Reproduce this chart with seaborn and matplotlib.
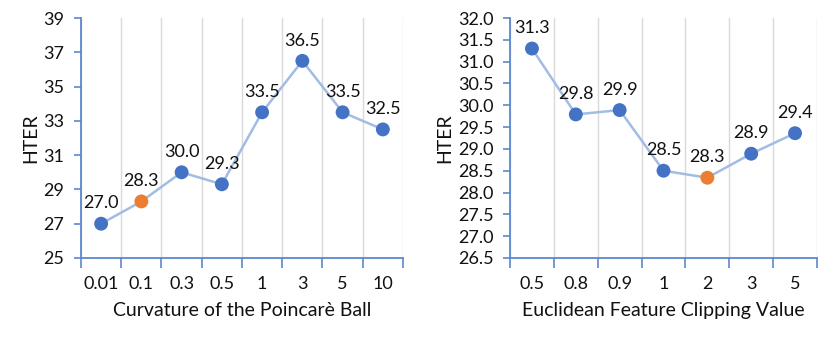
import matplotlib
matplotlib.use('Agg')
import matplotlib.pyplot as plt
import seaborn as sns
import numpy as np
import pandas as pd
from matplotlib.ticker import FixedLocator

# data
curv_labels = ['0.01', '0.1', '0.3', '0.5', '1', '3', '5', '10']
curv_hter = [27.0, 28.3, 30.0, 29.3, 33.5, 36.5, 33.5, 32.5]
curv_best = 1

clip_labels = ['0.5', '0.8', '0.9', '1', '2', '3', '5']
clip_hter = [31.3, 29.79, 29.89, 28.5, 28.34, 28.89, 29.36]
clip_best = 4

sns.set_theme(style="white")
plt.rcParams['font.family'] = ['Lato', 'DejaVu Sans']

BLUE = '#4472C4'
ORANGE = '#ED7D31'
LINE = '#A3BCE3'
SPINE = '#5B87D0'
GRID = '#D9D9D9'


def draw_panel(ax, labels, values, best, xlabel, yticks):
    n = len(labels)
    df = pd.DataFrame({'pos': np.arange(n), 'hter': values,
                       'kind': ['best' if i == best else 'other' for i in range(n)]})
    sns.lineplot(data=df, x='pos', y='hter', ax=ax, color=LINE, linewidth=1.8, zorder=2)
    sns.scatterplot(data=df, x='pos', y='hter', hue='kind', palette={'best': ORANGE, 'other': BLUE},
                    s=100, edgecolor='none', legend=False, ax=ax, zorder=3)
    for i, v in enumerate(values):
        ax.annotate(f'{v:.1f}', (i, v), xytext=(0, 11), textcoords='offset points',
                    ha='center', va='baseline', fontsize=13, color='#111111')

    ax.set_xlim(-0.5, n - 0.5)
    ax.set_ylim(yticks[0], yticks[-1])
    ax.set_yticks(yticks)
    ax.set_xticks(np.arange(n))
    ax.set_xticklabels(labels)
    ax.xaxis.set_minor_locator(FixedLocator(np.arange(n + 1) - 0.5))
    ax.grid(False)
    ax.grid(True, which='minor', axis='x', color=GRID, linewidth=1)

    ax.tick_params(axis='x', which='major', length=0, pad=13, labelsize=13, colors='#111111')
    ax.tick_params(axis='x', which='minor', length=7, width=1.2, color=SPINE, direction='out', bottom=True)
    ax.tick_params(axis='y', length=5, width=1.2, color=SPINE, direction='out', left=True,
                   pad=7, labelsize=13, labelcolor='#111111')

    for side in ['top', 'right']:
        ax.spines[side].set_visible(False)
    for side in ['left', 'bottom']:
        ax.spines[side].set_color(SPINE)
        ax.spines[side].set_linewidth(1.3)

    ax.set_xlabel(xlabel, fontsize=14, color='#111111', labelpad=7)
    ax.set_ylabel('HTER', fontsize=14, color='#111111', labelpad=3)


fig = plt.figure(figsize=(8.3, 3.38), dpi=100)
ax1 = fig.add_axes([0.0976, 0.2367, 0.3879, 0.71])
ax2 = fig.add_axes([0.6145, 0.2367, 0.3698, 0.71])

draw_panel(ax1, curv_labels, curv_hter, curv_best, 'Curvature of the Poincarè Ball',
           np.arange(25, 40, 2))
ax1.yaxis.set_major_formatter(matplotlib.ticker.FormatStrFormatter('%d'))
draw_panel(ax2, clip_labels, clip_hter, clip_best, 'Euclidean Feature Clipping Value',
           np.arange(26.5, 32.01, 0.5))
ax2.yaxis.set_major_formatter(matplotlib.ticker.FormatStrFormatter('%.1f'))

fig.savefig('out.png', dpi=100)
